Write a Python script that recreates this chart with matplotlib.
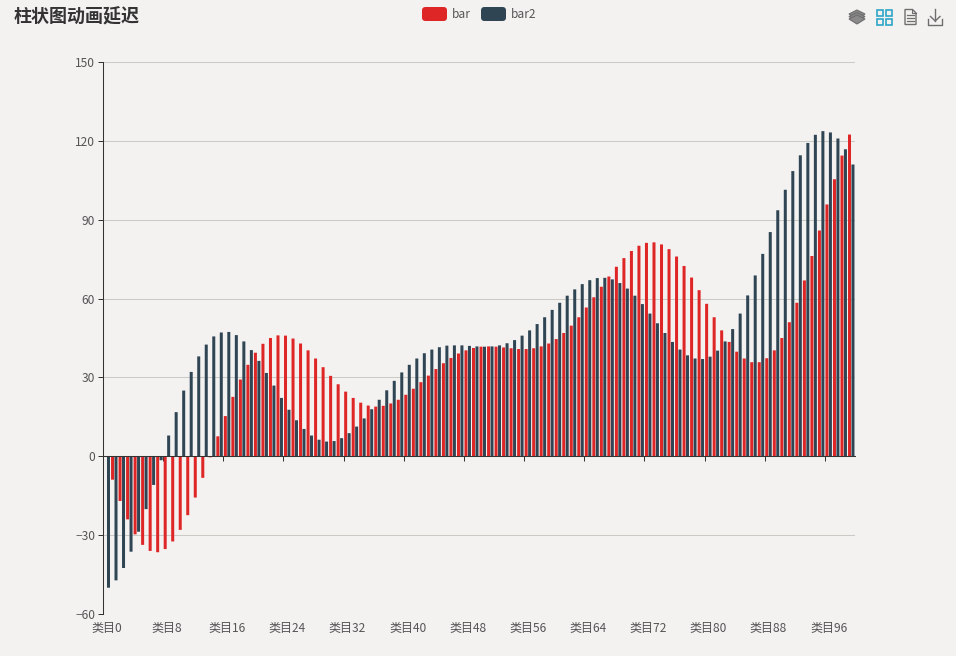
import matplotlib
matplotlib.use("Agg")
import matplotlib.pyplot as plt
from matplotlib.patches import FancyBboxPatch, Polygon, Rectangle
import numpy as np

plt.rcParams['font.family'] = ['Noto Sans CJK SC', 'DejaVu Sans']

title = "柱状图动画延迟"
series_names = ["bar", "bar2"]
categories = [f"类目{i}" for i in range(100)]
y_ticks = [-60, -30, 0, 30, 60, 90, 120, 150]

bar_values = [
    0.0, -8.9, -17.0, -24.0, -29.7, -33.7, -36.0, -36.5, -35.3, -32.4,
    -28.0, -22.4, -15.7, -8.2, -0.4, 7.6, 15.3, 22.6, 29.2, 34.8,
    39.4, 42.8, 45.0, 46.0, 45.9, 44.8, 42.9, 40.3, 37.2, 33.9,
    30.6, 27.4, 24.6, 22.2, 20.4, 19.3, 18.9, 19.2, 20.1, 21.5,
    23.4, 25.7, 28.2, 30.7, 33.2, 35.4, 37.4, 39.1, 40.3, 41.2,
    41.7, 41.8, 41.7, 41.4, 41.1, 40.8, 40.8, 41.1, 41.8, 42.9,
    44.6, 46.9, 49.7, 52.9, 56.6, 60.5, 64.5, 68.4, 72.1, 75.4,
    78.1, 80.1, 81.2, 81.4, 80.6, 78.8, 76.0, 72.4, 68.0, 63.2,
    58.0, 52.9, 47.9, 43.5, 39.8, 37.2, 35.8, 35.8, 37.3, 40.3,
    45.0, 51.0, 58.4, 66.9, 76.2, 85.9, 95.8, 105.4, 114.4, 122.4,
]
bar2_values = [
    -50.0, -47.2, -42.5, -36.3, -28.7, -20.1, -10.9, -1.5, 7.9, 16.8,
    25.0, 32.1, 38.0, 42.5, 45.6, 47.1, 47.3, 46.1, 43.7, 40.4,
    36.3, 31.7, 26.9, 22.2, 17.7, 13.7, 10.4, 7.9, 6.3, 5.6,
    5.8, 6.9, 8.8, 11.3, 14.4, 17.9, 21.5, 25.1, 28.7, 31.9,
    34.8, 37.2, 39.2, 40.6, 41.5, 42.1, 42.2, 42.2, 42.0, 41.8,
    41.7, 41.8, 42.2, 43.0, 44.2, 45.9, 47.9, 50.3, 52.9, 55.7,
    58.4, 61.1, 63.5, 65.5, 67.0, 67.8, 67.9, 67.3, 65.9, 63.8,
    61.1, 57.9, 54.3, 50.6, 46.9, 43.5, 40.6, 38.4, 37.2, 37.0,
    37.9, 40.2, 43.7, 48.4, 54.3, 61.2, 68.8, 77.0, 85.3, 93.6,
    101.4, 108.5, 114.5, 119.2, 122.3, 123.7, 123.2, 120.9, 116.8, 111.0,
]

W, H = 956, 656
BG = "#f3f2f1"
RED = "#df2626"
DARK = "#2f4554"
TXT = "#555555"
AXC = "#333333"
GRID = "#cbcbc6"
FS = 12 * 0.72

fig = plt.figure(figsize=(W / 100, H / 100), dpi=100, facecolor=BG)
L, R, T, B = 103, 855, 62, 614
ax = fig.add_axes([L / W, 1 - B / H, (R - L) / W, (B - T) / H], facecolor=BG)

x = np.arange(len(categories)) + 0.5
bw = 0.40
off = 0.23
for vals, xs, col in ((bar_values, x - off, RED), (bar2_values, x + off, DARK)):
    bars = ax.bar(xs, vals, bw, color=col, zorder=2, linewidth=0)
    for b in bars:
        b.set_snap(False)

ax.set_xlim(0, len(categories))
ax.set_ylim(-60, 150)
ax.set_yticks(y_ticks)
ax.yaxis.grid(True, color=GRID, linewidth=0.75, zorder=1)
ax.set_axisbelow(True)
ax.tick_params(axis='y', length=3.6, width=0.72, color=AXC, labelcolor=TXT, labelsize=FS, pad=2.0)

for s in ('top', 'right'):
    ax.spines[s].set_visible(False)
ax.spines['left'].set_color(AXC)
ax.spines['left'].set_linewidth(0.75)
ax.spines['left'].set_zorder(4)
ax.spines['bottom'].set_position(('data', 0))
ax.spines['bottom'].set_color(AXC)
ax.spines['bottom'].set_linewidth(0.75)
ax.spines['bottom'].set_zorder(4)
ax.set_xticks(range(0, 100, 8))
ax.tick_params(axis='x', length=3.6, width=0.72, color=AXC, labelbottom=False)

sec = ax.secondary_xaxis('bottom')
sec.set_xticks(x[::8], categories[::8])
sec.tick_params(axis='x', length=0, labelcolor=TXT, labelsize=FS, pad=6)
sec.spines['bottom'].set_visible(False)

# overlay in pixel coordinates for title, legend and toolbox
ov = fig.add_axes([0, 0, 1, 1], facecolor='none')
ov.set_xlim(0, W)
ov.set_ylim(H, 0)
ov.axis('off')

ov.text(14, 17, title, fontsize=18 * 0.72, fontweight='bold', color="#333333", va='center', ha='left')


def legend_item(x0, name, color):
    ov.add_patch(FancyBboxPatch((x0, 7), 25, 14, boxstyle="round,pad=0,rounding_size=3.5",
                                mutation_aspect=1, facecolor=color, edgecolor='none', linewidth=0))
    ov.text(x0 + 30, 15, name, fontsize=FS, color=TXT, va='center', ha='left')


legend_item(422, series_names[0], RED)
legend_item(481, series_names[1], DARK)

# toolbox: stack icon
G = "#6e6e6e"
for dy in (0, 2.5, 5):
    ov.add_patch(Polygon([[849, 14 + dy], [857, 10 + dy], [865, 14 + dy], [857, 19 + dy]],
                         closed=True, facecolor="#8a8a8a", edgecolor=G, linewidth=0.8))
# toolbox: tiled icon
C = "#2da6c8"
for xx in (877, 886.5):
    for yy in (9.5, 18.5):
        ov.add_patch(Rectangle((xx, yy), 6, 6, facecolor='none', edgecolor=C, linewidth=1.2))
# toolbox: data view icon
ov.add_patch(Polygon([[905, 9.5], [912.5, 9.5], [916, 13], [916, 24.5], [905, 24.5]],
                     closed=True, facecolor='none', edgecolor=G, linewidth=1.0))
ov.plot([912.5, 912.5, 916], [9.5, 13, 13], color=G, lw=0.8)
for yy in (15, 18, 21):
    ov.plot([907, 914], [yy, yy], color=G, lw=0.9)
# toolbox: save icon
ov.plot([928.5, 928.5, 942, 942], [19, 24.5, 24.5, 19], color=G, lw=1.0)
ov.plot([935.2, 935.2], [9, 21], color=G, lw=1.0)
ov.plot([930.5, 935.2, 940], [16.5, 21, 16.5], color=G, lw=1.0)

fig.savefig("out.png", dpi=100, facecolor=BG)
